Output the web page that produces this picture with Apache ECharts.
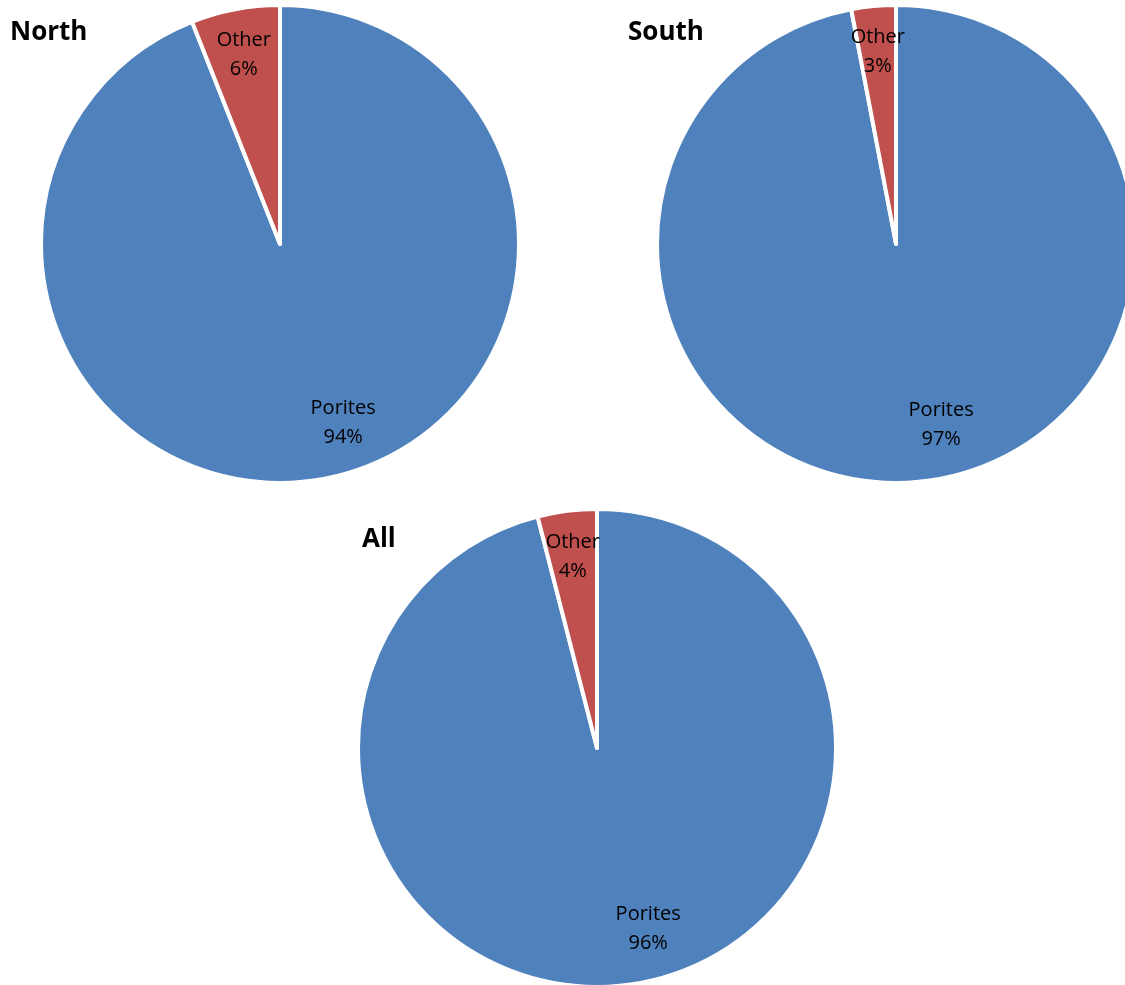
<!DOCTYPE html>
<html>
<head>
<meta charset="utf-8">
<title>Porites share by region</title>
<script src="https://cdn.jsdelivr.net/npm/echarts@6/dist/echarts.min.js"></script>
<style>
  html, body { margin: 0; padding: 0; background: #ffffff; }
  #chart { width: 1125px; height: 985px; }
</style>
</head>
<body>
<div id="chart"></div>
<script>
// Coral cover composition per region (percent of colonies)
const regions = ['North', 'South', 'All'];
const categories = ['Porites', 'Other'];
const northValues = [94, 6];
const southValues = [97, 3];
const allValues = [96, 4];

const regionValues = [northValues, southValues, allValues];

// Layout for each pie and its heading
const pieCenters = [[280, 244], [896, 244], [597, 748]];
const titlePositions = [[10, 20], [628, 20], [362, 527]];
const pieRadius = 239;
const labelRing = [144, 236];
// the large slice's label sits a little off its mid-angle
const majorLabelShift = [27, -11];

const sliceColors = ['#4F81BD', '#C0504D'];
const fontFamily = '"Open Sans", "Liberation Sans", sans-serif';

const chart = echarts.init(document.getElementById('chart'), null, { renderer: 'canvas' });

const series = [];
regions.forEach(function (region, i) {
  const values = regionValues[i];
  const largest = values.indexOf(Math.max.apply(null, values));
  const data = categories.map(function (name, k) {
    return { name: name, value: values[k] };
  });
  const labelData = categories.map(function (name, k) {
    const item = { name: name, value: values[k] };
    if (k === largest) item.label = { offset: majorLabelShift };
    return item;
  });
  // filled slices
  series.push({
    type: 'pie',
    name: region,
    center: pieCenters[i],
    radius: [0, pieRadius],
    startAngle: 90,
    clockwise: true,
    silent: true,
    animation: false,
    color: sliceColors,
    label: { show: false },
    labelLine: { show: false },
    itemStyle: { borderColor: '#ffffff', borderWidth: 4 },
    emphasis: { disabled: true },
    data: data
  });
  // transparent ring that carries the slice labels further out
  series.push({
    type: 'pie',
    name: region + ' labels',
    center: pieCenters[i],
    radius: labelRing,
    startAngle: 90,
    clockwise: true,
    silent: true,
    animation: false,
    itemStyle: { color: 'rgba(0,0,0,0)' },
    label: {
      show: true,
      position: 'inside',
      formatter: '{b}\n{c}%',
      color: '#000000',
      fontFamily: fontFamily,
      fontSize: 20,
      lineHeight: 29,
      align: 'center'
    },
    labelLine: { show: false },
    emphasis: { disabled: true },
    data: labelData
  });
});

const titles = regions.map(function (region, i) {
  return {
    text: region,
    left: titlePositions[i][0],
    top: titlePositions[i][1],
    padding: 0,
    textStyle: {
      fontFamily: fontFamily,
      fontWeight: 'bold',
      fontSize: 26,
      color: '#000000'
    }
  };
});

chart.setOption({
  backgroundColor: '#ffffff',
  animation: false,
  title: titles,
  series: series
});
</script>
</body>
</html>
